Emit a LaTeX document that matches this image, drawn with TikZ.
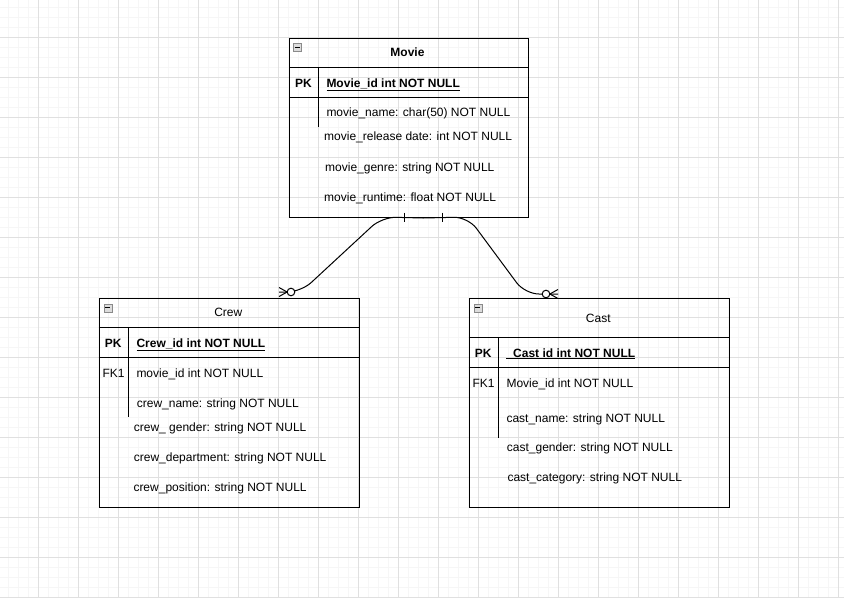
\documentclass[tikz,border=0pt]{standalone}
\usepackage{fontspec}
\setmainfont{Liberation Sans}
\usetikzlibrary{calc}
\definecolor{gridmajor}{HTML}{E0E0E0}
\definecolor{gridminor}{HTML}{F6F6F6}
\definecolor{iconfill}{HTML}{DCDCDC}
\definecolor{iconline}{HTML}{8A8A8A}
\begin{document}
\begin{tikzpicture}[x=1pt,y=-1pt,
 tbl/.style={draw=black, line width=1pt, anchor=north west, inner sep=0pt},
 txt/.style={anchor=base west, inner sep=0pt, font=\fontsize{12}{14}\selectfont},
 btxt/.style={anchor=base west, inner sep=0pt, font=\fontsize{12}{14}\selectfont\bfseries},
 ctxt/.style={anchor=base, inner sep=0pt, font=\fontsize{12}{14}\selectfont},
 bctxt/.style={anchor=base, inner sep=0pt, font=\fontsize{12}{14}\selectfont\bfseries},
 sepline/.style={draw=black, line width=1pt},
 icon/.style={draw=iconline, fill=iconfill, minimum size=8pt, inner sep=0pt, line width=0.7pt, anchor=north west},
 rel/.style={draw=black, line width=1pt, rounded corners=14pt},
 relmark/.style={draw=black, line width=1pt},
]
\useasboundingbox (0,0) rectangle (844,598);
\fill[white] (0,0) rectangle (844,598);
% grid
\foreach \x in {8,18,...,838} \draw[gridminor, line width=1pt] (\x,0) -- (\x,598);
\foreach \y in {7,17,...,597} \draw[gridminor, line width=1pt] (0,\y) -- (844,\y);
\foreach \x in {38,78,...,838} \draw[gridmajor, line width=1pt] (\x,0) -- (\x,598);
\foreach \y in {37,77,...,597} \draw[gridmajor, line width=1pt] (0,\y) -- (844,\y);

% ---------- Movie ----------
\node[tbl, minimum width=239pt, minimum height=179pt] (movie) at (289,38) {};
\draw[sepline] (289,67.5) -- (528,67.5);
\draw[sepline] (289,97.5) -- (528,97.5);
\draw[sepline] (318.5,67.5) -- (318.5,127);
\node[icon] (movieicon) at (293,43) {};
\draw[black, line width=1pt] (294.5,47) -- (299.5,47);
\node[bctxt] (movietitle) at (407.5,56.6) {Movie};
\node[bctxt] (moviepk) at (303.5,87) {PK};
\node[btxt] (movieid) at (326.3,87) {\underline{Movie\_id int NOT NULL}};
\node[txt] (moviename) at (326.3,116.6) {movie\_name: char(50) NOT NULL};
\node[txt] (movierel) at (324,140.5) {movie\_release date: int NOT NULL};
\node[txt] (moviegenre) at (325,171) {movie\_genre: string NOT NULL};
\node[txt] (movierun) at (324,201.5) {movie\_runtime: float NOT NULL};

% ---------- Crew ----------
\node[tbl, minimum width=260pt, minimum height=209.5pt] (crew) at (98.5,297.7) {};
\draw[sepline] (98.5,327.5) -- (358.5,327.5);
\draw[sepline] (98.5,357.5) -- (358.5,357.5);
\draw[sepline] (128.5,327.5) -- (128.5,417);
\node[icon] (crewicon) at (103.5,303.5) {};
\draw[black, line width=1pt] (105,307.5) -- (110,307.5);
\node[ctxt] (crewtitle) at (228.3,316.6) {Crew};
\node[bctxt] (crewpk) at (113.3,347) {PK};
\node[btxt] (crewid) at (136.3,347) {\underline{Crew\_id int NOT NULL}};
\node[txt] (crewfk) at (102.3,377) {FK1};
\node[txt] (crewmovie) at (136.3,377) {movie\_id int NOT NULL};
\node[txt] (crewname) at (136.7,407) {crew\_name: string NOT NULL};
\node[txt] (crewgender) at (133.7,431) {crew\_ gender: string NOT NULL};
\node[txt] (crewdept) at (133.7,461) {crew\_department: string NOT NULL};
\node[txt] (crewpos) at (133.3,491) {crew\_position: string NOT NULL};

% ---------- Cast ----------
\node[tbl, minimum width=260pt, minimum height=209.5pt] (cast) at (468.5,297.7) {};
\draw[sepline] (468.5,337.5) -- (728.5,337.5);
\draw[sepline] (468.5,367.5) -- (728.5,367.5);
\draw[sepline] (498.5,337.5) -- (498.5,437.5);
\node[icon] (casticon) at (473.5,303.5) {};
\draw[black, line width=1pt] (475,307.5) -- (480,307.5);
\node[ctxt] (casttitle) at (598.3,322) {Cast};
\node[bctxt] (castpk) at (483.3,357) {PK};
\node[btxt] (castid) at (506,357) {\underline{\hspace{7pt}Cast id int NOT NULL}};
\node[txt] (castfk) at (472.3,387) {FK1};
\node[txt] (castmovie) at (506.3,387) {Movie\_id int NOT NULL};
\node[txt] (castname) at (506.3,422) {cast\_name: string NOT NULL};
\node[txt] (castgender) at (506.7,451) {cast\_gender: string NOT NULL};
\node[txt] (castcat) at (507.3,481) {cast\_category: string NOT NULL};

% ---------- Relationships ----------
\coordinate (mstart) at ($(movie.south west)+(134,0)$);
\coordinate (crewend) at ($(crew.north west)+(180.5,-5.7)$);
\coordinate (castend) at ($(cast.north west)+(89.5,-3.7)$);

% Movie -> Crew
\draw[rel] (mstart) -- (382,217) -- (301,292) -- (crewend);
\draw[relmark] (404,212.5) -- (404,221.5);
\draw[relmark, fill=white] (291,292) circle (3.8pt);
\draw[relmark] (287.2,292) -- (279,287.5);
\draw[relmark] (287.2,292) -- (279,296.5);

% Movie -> Cast
\draw[rel] (mstart) -- (468,217) -- (525,294) -- (castend);
\draw[relmark] (442,212.5) -- (442,221.5);
\draw[relmark, fill=white] (546,294) circle (3.8pt);
\draw[relmark] (549.8,294) -- (558,289.5);
\draw[relmark] (549.8,294) -- (558,298.5);
\end{tikzpicture}
\end{document}
